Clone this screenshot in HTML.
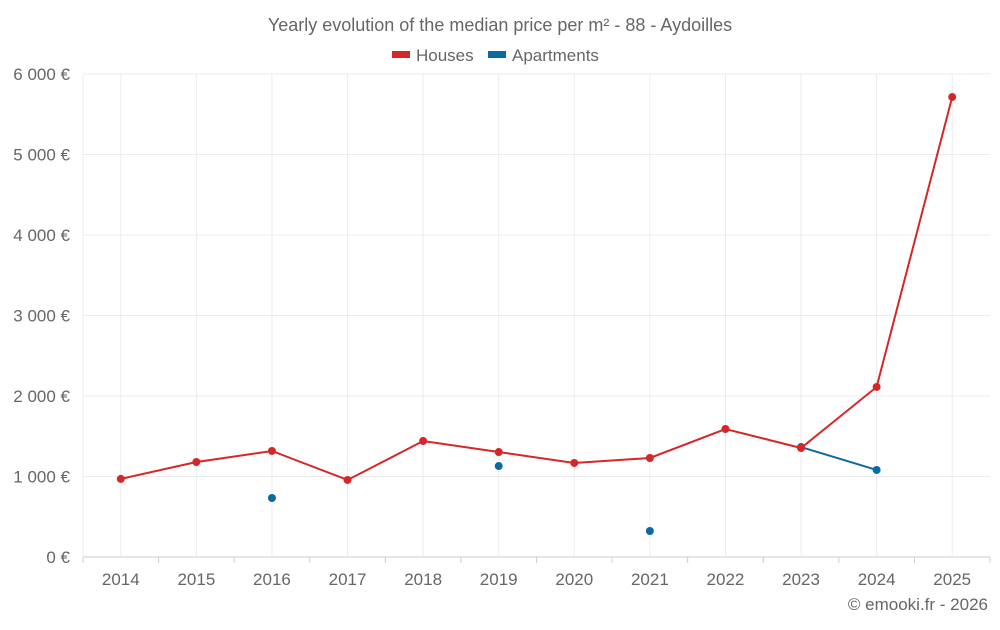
<!DOCTYPE html>
<html><head><meta charset="utf-8"><style>
body{margin:0;background:#fff;font-family:"Liberation Sans",sans-serif;}
svg text{font-family:"Liberation Sans",sans-serif;fill:#666;}
</style></head><body>
<svg id="c" width="1000" height="625">
<text x="500" y="31" text-anchor="middle" font-size="18">Yearly evolution of the median price per m² - 88 - Aydoilles</text>
<g>
<g><rect x="392" y="51" width="18" height="7" fill="#d62728"/><text x="416" y="61" font-size="17" fill="#555">Houses</text></g>
<g><rect x="488" y="51" width="18" height="7" fill="#0a6aa1"/><text x="512" y="61" font-size="17" fill="#555">Apartments</text></g>
</g>
<g id="grid"></g><g id="axes"></g><g id="series"></g>
<text x="988" y="610" text-anchor="end" font-size="17">© emooki.fr - 2026</text>
</svg>
<script>
const years=[2014,2015,2016,2017,2018,2019,2020,2021,2022,2023,2024,2025];
const houses=[970,1180,1317,957,1441,1304,1168,1230,1590,1354,2112,5714];
const apartments=[null,null,733,null,null,1130,null,323,null,1366,1081,null];
const yTicks=[0,1000,2000,3000,4000,5000,6000];
const yLabels=["0 €","1 000 €","2 000 €","3 000 €","4 000 €","5 000 €","6 000 €"];
const NS="http://www.w3.org/2000/svg";
const L=83,R=990,T=74,B=557,yMax=6000;
const step=(R-L)/years.length;
const xs=i=>L+step*(i+0.5);
const ys=v=>B-(v/yMax)*(B-T);
function mk(tag,attrs,parent){const e=document.createElementNS(NS,tag);for(const k in attrs)e.setAttribute(k,attrs[k]);document.getElementById(parent).appendChild(e);return e;}
yTicks.forEach((v,i)=>{
 const g=mk('line',{x1:L,x2:R,y1:ys(v),y2:ys(v),stroke:i==0?'#ccc':'#ececec'},'grid');
 
 
 const t=mk('text',{x:70,y:ys(v)+6,'text-anchor':'end','font-size':17},'axes');t.textContent=yLabels[i];
 
 
});
mk('line',{x1:L,x2:L,y1:T,y2:B,stroke:'#ececec'},'grid');
years.forEach((y,i)=>{
 const g=mk('line',{x1:xs(i),x2:xs(i),y1:T,y2:B,stroke:'#ececec'},'grid');
 
 
 const tk=mk('line',{x1:L+step*i,x2:L+step*i,y1:B,y2:B+6,stroke:'#ccc'},'axes');
 
 
 const t=mk('text',{x:xs(i),y:585,'text-anchor':'middle','font-size':17},'axes');t.textContent=y;
 
 
});
mk('line',{x1:R,x2:R,y1:B,y2:B+6,stroke:'#ccc'},'axes');
function draw(vals,color,name){
 let segs=[],cur=[];
 vals.forEach((v,i)=>{if(v==null){if(cur.length)segs.push(cur);cur=[];}else cur.push([xs(i),ys(v)]);});
 if(cur.length)segs.push(cur);
 segs.forEach(s=>{if(s.length>1){const p=mk('polyline',{points:s.map(q=>q.join(',')).join(' '),fill:'none',stroke:color,'stroke-width':2},'series');
  
  }});
 vals.forEach((v,i)=>{if(v==null)return;const c=mk('circle',{cx:xs(i),cy:ys(v),r:4,fill:color},'series');
  
  });
}
draw(apartments,'#0a6aa1','apartments');
draw(houses,'#d62728','houses');
</script>
</body></html>
